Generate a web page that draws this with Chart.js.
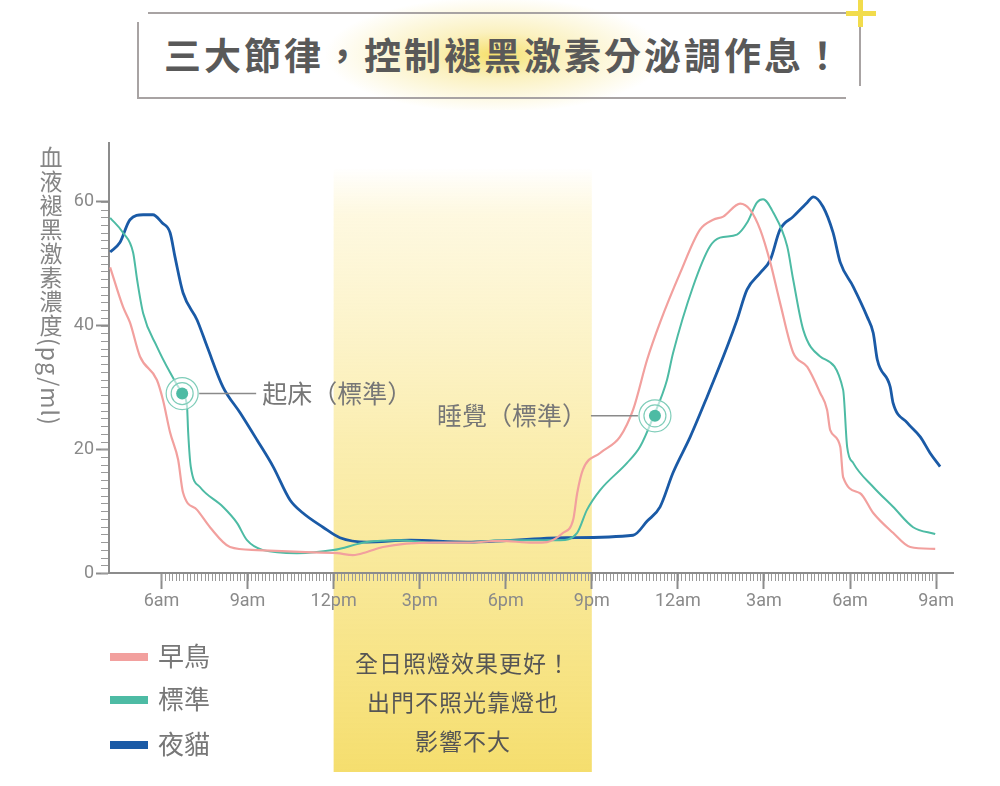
<!DOCTYPE html>
<html>
<head>
<meta charset="utf-8">
<script src="https://cdn.jsdelivr.net/npm/chart.js@4.4.1/dist/chart.umd.min.js"></script>
<style>
    html, body { margin: 0; padding: 0; background: #fff; }
    #wrap { position: relative; width: 1000px; height: 786px; overflow: hidden; font-family: 'Noto Sans CJK TC', 'Noto Sans', sans-serif; }
    #chart { position: absolute; left: 0; top: 0; }
    .glow { position: absolute; left: 270px; top: 0; width: 450px; height: 110px;
            background: radial-gradient(ellipse 170px 58px at 50% 50%, rgba(245,222,100,0.95) 0%, rgba(248,232,150,0.6) 40%, rgba(255,255,255,0) 100%); }
    .bline { position: absolute; background: #a8a3a3; }
    .plus  { position: absolute; background: #f2dc4c; }
    .title { position: absolute; left: 4px; width: 1000px; top: 26px; text-align: center; font-size: 37px; font-weight: 700;
             color: #595959; letter-spacing: 3px; line-height: 56px; font-family: 'Noto Sans CJK TC', sans-serif; }
    .ytitle { position: absolute; left: 34px; top: 146px; writing-mode: vertical-rl; font-size: 23px; color: #858585; letter-spacing: 1px; }
    .legend { position: absolute; left: 110px; font-size: 26px; color: #777; line-height: 30px; }
    .legend i { display: inline-block; width: 38px; height: 8px; vertical-align: middle; margin-right: 10px; position: relative; top: -2px; }
    .note { position: absolute; left: 334px; width: 258px; top: 643px; text-align: center; font-size: 23px; color: #555; line-height: 39px; letter-spacing: 1px; }
</style>
</head>
<body>
<div id="wrap">
    <div class="glow"></div>
    <div class="bline" style="left:148px; top:12px; width:708px; height:2px;"></div>
    <div class="bline" style="left:137px; top:22px; width:2px; height:77px;"></div>
    <div class="bline" style="left:137px; top:97px; width:709px; height:2px;"></div>
    <div class="bline" style="left:859px; top:12px; width:2px; height:74px;"></div>
    <div class="plus" style="left:846px; top:11px; width:30px; height:5px;"></div>
    <div class="plus" style="left:858px; top:0px; width:5px; height:27px;"></div>
    <div class="title">三大節律，控制褪黑激素分泌調作息！</div>
    <canvas id="chart" width="1000" height="786"></canvas>
    <div class="ytitle">血液褪黑激素濃度(pg/ml)</div>
    <div class="legend" style="top:640px;"><i style="background:#f2a09e"></i>早鳥</div>
    <div class="legend" style="top:683px;"><i style="background:#4dbba4"></i>標準</div>
    <div class="legend" style="top:728px;"><i style="background:#1a5aa6"></i>夜貓</div>
    <div class="note">全日照燈效果更好！<br>出門不照光靠燈也<br>影響不大</div>
</div>
<script>
// ── Data (x = hour of day, continuing past midnight as 24+) ──
const tickHours  = [6, 9, 12, 15, 18, 21, 24, 27, 30, 33];
const tickLabels = ['6am', '9am', '12pm', '3pm', '6pm', '9pm', '12am', '3am', '6am', '9am'];
const yTicks     = [0, 20, 40, 60];

const earlyHours  = [4.21, 4.66, 4.90, 5.25, 5.84, 6.05, 6.30, 6.58, 6.75, 7.24, 7.69, 8.39, 9.33, 10.83, 12.12, 12.68, 13.16, 13.72, 15.47, 16.65, 17.80, 18.95, 19.44, 20.00, 20.35, 20.49, 20.69, 21.29, 21.98, 22.44, 22.93, 23.38, 24.08, 24.77, 25.23, 25.58, 26.17, 26.52, 26.87, 27.22, 27.56, 28.02, 28.51, 28.96, 29.20, 29.31, 29.66, 29.76, 30.35, 30.81, 31.50, 32.10, 32.97];
const earlyLevels = [49.4, 43.0, 40.5, 35.0, 31.2, 28.0, 22.7, 18.3, 13.0, 10.2, 7.4, 4.2, 3.7, 3.4, 3.2, 2.9, 3.4, 4.2, 4.9, 4.9, 5.2, 4.9, 5.0, 6.5, 8.6, 12.9, 16.7, 19.4, 22.0, 26.4, 34.5, 40.5, 48.5, 55.5, 57.1, 57.6, 59.7, 58.7, 55.5, 50.2, 43.7, 35.6, 33.3, 29.1, 26.4, 23.1, 20.4, 15.5, 12.9, 9.7, 6.5, 4.2, 3.9];

const normalHours  = [4.21, 4.66, 5.01, 5.15, 5.36, 5.84, 6.30, 6.72, 6.89, 6.93, 7.02, 7.34, 8.14, 8.63, 8.98, 9.54, 10.72, 11.98, 13.16, 14.31, 15.47, 16.65, 17.80, 19.89, 20.49, 20.83, 21.29, 22.23, 22.68, 23.14, 23.62, 23.83, 24.53, 25.12, 25.47, 26.06, 26.41, 26.76, 26.97, 27.32, 27.81, 28.02, 28.37, 28.96, 29.76, 29.90, 30.11, 30.81, 31.50, 32.20, 32.97];
const normalLevels = [57.4, 55.0, 51.8, 47.4, 42.0, 36.6, 32.4, 29.1, 26.9, 22.7, 17.2, 13.9, 10.7, 8.1, 5.3, 3.7, 3.2, 3.7, 5.0, 5.3, 4.9, 4.9, 5.3, 5.3, 6.5, 10.2, 13.4, 17.8, 20.4, 25.2, 31.2, 35.5, 46.3, 52.8, 54.2, 54.7, 56.6, 59.9, 60.4, 58.3, 52.8, 47.4, 39.3, 35.0, 29.6, 20.4, 17.8, 13.9, 10.7, 7.4, 6.3];

const owlHours  = [4.21, 4.55, 4.90, 5.36, 5.70, 6.02, 6.30, 6.47, 6.75, 7.24, 7.59, 8.14, 8.74, 9.33, 9.89, 10.48, 10.93, 11.63, 12.22, 13.16, 14.66, 16.65, 20.14, 22.44, 22.93, 23.38, 23.83, 24.43, 25.02, 25.72, 26.06, 26.41, 26.87, 27.22, 27.56, 28.02, 28.51, 28.72, 29.06, 29.41, 29.66, 30.11, 30.60, 30.81, 30.95, 31.40, 31.50, 31.99, 32.45, 32.79, 33.14];
const owlLevels = [51.9, 53.4, 57.1, 57.9, 57.9, 56.6, 55.0, 51.1, 45.3, 40.9, 36.6, 30.1, 25.9, 21.5, 17.2, 11.8, 9.7, 7.4, 5.7, 5.0, 5.3, 5.0, 5.7, 6.1, 8.4, 10.7, 16.2, 22.0, 28.5, 36.6, 40.9, 45.8, 48.5, 50.6, 55.5, 57.6, 59.9, 60.8, 59.2, 55.0, 50.2, 46.3, 41.4, 38.8, 34.5, 30.1, 27.5, 24.3, 22.0, 19.4, 17.2];

// wake / sleep markers on the 標準 curve
const markerHours  = [6.72, 23.20];
const markerLevels = [29.0, 25.4];
const markerTexts  = ['起床（標準）', '睡覺（標準）'];

// light band: noon to 9pm
const bandStart = 12;
const bandEnd   = 21;

const toPoints = (xs, ys) => xs.map((x, i) => ({ x: x, y: ys[i] }));

// ── Plugins ───────────────────────────────────────────────────
const bandPlugin = {
    id: 'band',
    beforeDraw(chart) {
        const ctx = chart.ctx;
        const x = chart.scales.x;
        const x0 = x.getPixelForValue(bandStart);
        const x1 = x.getPixelForValue(bandEnd);
        const top = 168, bottom = 772;
        const g = ctx.createLinearGradient(0, top, 0, bottom);
        g.addColorStop(0, 'rgba(252,238,170,0)');
        g.addColorStop(0.08, 'rgba(252,240,185,0.45)');
        g.addColorStop(0.45, 'rgba(249,232,150,0.75)');
        g.addColorStop(1, 'rgba(245,222,110,1)');
        ctx.save();
        ctx.fillStyle = g;
        ctx.fillRect(x0, top, x1 - x0, bottom - top);
        ctx.restore();
    }
};

const minorTicksPlugin = {
    id: 'minorTicks',
    afterDraw(chart) {
        const ctx = chart.ctx;
        const xs = chart.scales.x, ys = chart.scales.y;
        const axisY = chart.chartArea.bottom;
        const axisX = chart.chartArea.left;
        ctx.save();
        ctx.strokeStyle = '#9a9a9a';
        ctx.lineWidth = 1;
        ctx.beginPath();
        for (let h = 6; h <= 33.001; h += 0.125) {
            const px = Math.round(xs.getPixelForValue(h)) + 0.5;
            ctx.moveTo(px, axisY + 1);
            ctx.lineTo(px, axisY + 8);
        }
        for (let v = 0; v <= 60.001; v += 1.25) {
            const py = Math.round(ys.getPixelForValue(v)) + 0.5;
            ctx.moveTo(axisX - 1, py);
            ctx.lineTo(axisX - 8, py);
        }
        ctx.stroke();
        ctx.restore();
    }
};

const markerPlugin = {
    id: 'markers',
    afterDatasetsDraw(chart) {
        const ctx = chart.ctx;
        const xs = chart.scales.x, ys = chart.scales.y;
        ctx.save();
        markerHours.forEach((h, i) => {
            const px = xs.getPixelForValue(h);
            const py = ys.getPixelForValue(markerLevels[i]);
            ctx.fillStyle = 'rgba(255,255,255,0.6)';
            ctx.beginPath(); ctx.arc(px, py, 16, 0, Math.PI * 2); ctx.fill();
            ctx.strokeStyle = '#7fcdb9';
            ctx.lineWidth = 1.2;
            ctx.beginPath(); ctx.arc(px, py, 16, 0, Math.PI * 2); ctx.stroke();
            ctx.beginPath(); ctx.arc(px, py, 11, 0, Math.PI * 2); ctx.stroke();
            ctx.fillStyle = '#4dbba4';
            ctx.beginPath(); ctx.arc(px, py, 6, 0, Math.PI * 2); ctx.fill();

            // leader line + label
            ctx.strokeStyle = '#8a8a8a';
            ctx.lineWidth = 1.5;
            ctx.font = '25px "Noto Sans CJK TC"';
            ctx.fillStyle = '#777';
            ctx.textBaseline = 'middle';
            ctx.beginPath();
            if (i === 0) {
                ctx.moveTo(px + 17, py); ctx.lineTo(px + 74, py); ctx.stroke();
                ctx.textAlign = 'left';
                ctx.fillText(markerTexts[i], px + 80, py);
            } else {
                ctx.moveTo(px - 17, py); ctx.lineTo(px - 64, py); ctx.stroke();
                ctx.textAlign = 'right';
                ctx.fillText(markerTexts[i], px - 68, py);
            }
        });
        ctx.restore();
    }
};

// ── Chart ─────────────────────────────────────────────────────
const lineBase = { pointRadius: 0, cubicInterpolationMode: 'monotone', fill: false };

new Chart(document.getElementById('chart'), {
    type: 'line',
    data: {
        datasets: [
            Object.assign({ label: '早鳥', data: toPoints(earlyHours, earlyLevels), borderColor: '#f2a09e', borderWidth: 2.2 }, lineBase),
            Object.assign({ label: '標準', data: toPoints(normalHours, normalLevels), borderColor: '#4dbba4', borderWidth: 2 }, lineBase),
            Object.assign({ label: '夜貓', data: toPoints(owlHours, owlLevels), borderColor: '#1a5aa6', borderWidth: 2.8 }, lineBase)
        ]
    },
    options: {
        responsive: false,
        animation: false,
        layout: { padding: { left: 49, top: 143, right: 47, bottom: 173 } },
        plugins: { legend: { display: false }, tooltip: { enabled: false } },
        scales: {
            x: {
                type: 'linear',
                min: 4.17,
                max: 33.59,
                afterBuildTicks: s => { s.ticks = tickHours.map(v => ({ value: v })); },
                afterFit: s => { s.height = 40; },
                ticks: {
                    callback: (v) => tickLabels[tickHours.indexOf(v)],
                    color: '#8a8a8a',
                    font: { family: 'Roboto', size: 18 },
                    padding: 2,
                    maxRotation: 0,
                    autoSkip: false
                },
                grid: { drawOnChartArea: false, drawTicks: true, tickLength: 16, tickColor: '#8c8c8c', tickWidth: 2 },
                border: { color: '#8c8c8c', width: 2 }
            },
            y: {
                min: 0,
                max: 69.5,
                afterBuildTicks: s => { s.ticks = yTicks.map(v => ({ value: v })); },
                afterFit: s => { s.width = 60; },
                ticks: {
                    color: '#8a8a8a',
                    font: { family: 'Roboto', size: 18 },
                    padding: 2
                },
                grid: { drawOnChartArea: false, drawTicks: true, tickLength: 13, tickColor: '#8c8c8c', tickWidth: 2 },
                border: { color: '#8c8c8c', width: 2 }
            }
        }
    },
    plugins: [bandPlugin, minorTicksPlugin, markerPlugin]
});
</script>
</body>
</html>
